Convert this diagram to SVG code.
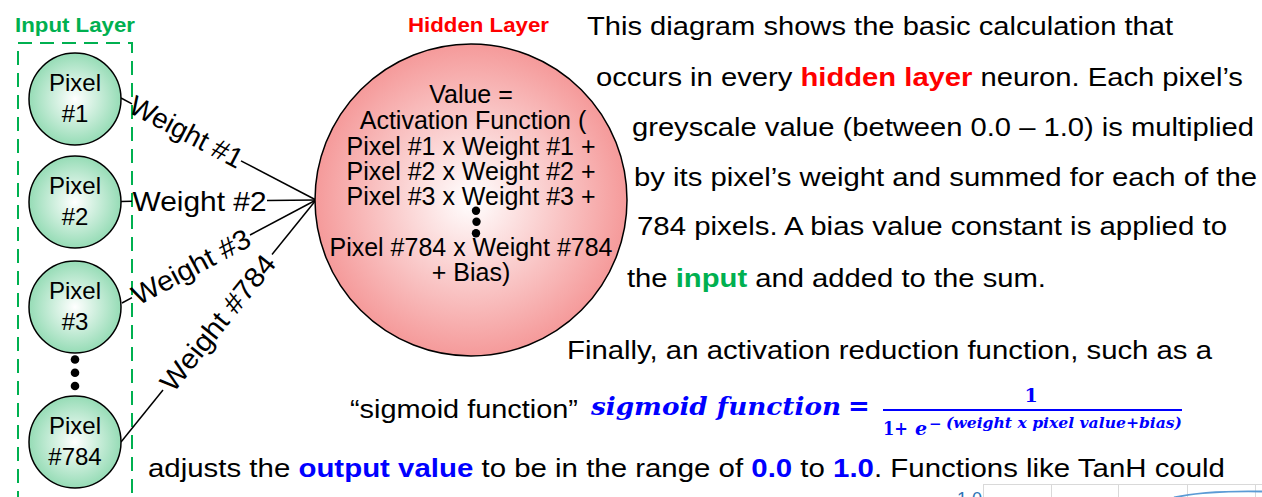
<svg xmlns="http://www.w3.org/2000/svg" width="1262" height="497" viewBox="0 0 1262 497">
<style>
.sans{font-family:"Liberation Sans",Arial,sans-serif}
.px{font-family:"Liberation Sans",Arial,sans-serif;font-size:24px;fill:#000;text-anchor:middle}
.hid{font-family:"Liberation Sans",Arial,sans-serif;font-size:25px;fill:#000;text-anchor:middle}
.wt{font-family:"Liberation Sans",Arial,sans-serif;font-size:28px;fill:#000;text-anchor:middle}
.para{font-family:"Liberation Sans",Arial,sans-serif;font-size:26px;fill:#000}
.math{font-family:"DejaVu Serif","Liberation Serif",serif;font-weight:bold;fill:#0000ff}
.pnode{stroke:#000;stroke-width:1.5;fill:url(#gGreen)}
.conn line{stroke:#000;stroke-width:1.5}
.red{fill:#ff0000;font-weight:bold}
.grn{fill:#00b050;font-weight:bold}
.blu{fill:#0000ff;font-weight:bold}
.grid{stroke:#d9d9d9;stroke-width:1}
</style>
<defs>
<radialGradient id="gGreen" cx="50%" cy="50%" r="50%">
<stop offset="0" stop-color="#ffffff"/>
<stop offset="1" stop-color="#96dcb6"/>
</radialGradient>
<radialGradient id="gRed" cx="50%" cy="50%" r="50%">
<stop offset="0" stop-color="#ffffff"/>
<stop offset="1" stop-color="#f59a9a"/>
</radialGradient>
</defs>
<rect width="1262" height="497" fill="#ffffff"/>

<!-- chart fragment -->
<g id="chart">
<line class="grid" x1="983" y1="484.5" x2="1262" y2="484.5"/>
<line class="grid" x1="983.5" y1="484" x2="983.5" y2="497"/>
<line class="grid" x1="1051.5" y1="484" x2="1051.5" y2="497"/>
<line class="grid" x1="1118.5" y1="484" x2="1118.5" y2="497"/>
<line class="grid" x1="1187.5" y1="484" x2="1187.5" y2="497"/>
<line class="grid" x1="1255.5" y1="484" x2="1255.5" y2="497"/>
<text class="sans" x="982" y="505" font-size="18" fill="#2e75b6" text-anchor="end">1.0</text>
<path d="M1174,497.5 Q1205,490.5 1262,491.5" fill="none" stroke="#5b9bd5" stroke-width="2"/>
</g>

<!-- input layer -->
<g id="input-layer">
<rect x="18" y="43" width="114" height="480" fill="none" stroke="#00b050" stroke-width="2" stroke-dasharray="14 8"/>
<text class="sans" x="15" y="32" font-size="20" font-weight="bold" fill="#00b050" textLength="120" lengthAdjust="spacingAndGlyphs">Input Layer</text>
</g>

<!-- connectors -->
<g id="connectors" class="conn">
<line x1="121" y1="98" x2="132" y2="103.8"/>
<line x1="241" y1="160.8" x2="316" y2="200"/>
<line x1="121" y1="201.5" x2="132" y2="201.3"/>
<line x1="267" y1="200.5" x2="316" y2="200"/>
<line x1="122" y1="303" x2="132" y2="297.7"/>
<line x1="250" y1="235" x2="316" y2="200"/>
<line x1="121" y1="442" x2="163" y2="390"/>
<line x1="272" y1="254.5" x2="316" y2="200"/>
<text class="wt" transform="translate(186.5,131.5) rotate(27.6)" x="0" y="10" textLength="124" lengthAdjust="spacingAndGlyphs">Weight #1</text>
<text class="wt" x="199.5" y="211" textLength="134" lengthAdjust="spacingAndGlyphs">Weight #2</text>
<text class="wt" transform="translate(191,266.5) rotate(-27.96)" x="0" y="10" textLength="130" lengthAdjust="spacingAndGlyphs">Weight #3</text>
<text class="wt" transform="translate(217.5,322.5) rotate(-51.14)" x="0" y="10" textLength="166" lengthAdjust="spacingAndGlyphs">Weight #784</text>
</g>

<!-- pixel nodes -->
<g id="pixel1">
<circle class="pnode" cx="75" cy="99" r="46"/>
<text class="px" x="75" y="91">Pixel</text>
<text class="px" x="75" y="122">#1</text>
</g>
<g id="pixel2">
<circle class="pnode" cx="75" cy="202" r="46"/>
<text class="px" x="75" y="194">Pixel</text>
<text class="px" x="75" y="225">#2</text>
</g>
<g id="pixel3">
<circle class="pnode" cx="75" cy="307" r="46"/>
<text class="px" x="75" y="299">Pixel</text>
<text class="px" x="75" y="330">#3</text>
</g>
<g id="input-dots">
<circle cx="75" cy="359.5" r="4.3" fill="#000"/>
<circle cx="75" cy="372.8" r="4.3" fill="#000"/>
<circle cx="75" cy="386" r="4.3" fill="#000"/>
</g>
<g id="pixel784">
<circle class="pnode" cx="75" cy="442" r="46"/>
<text class="px" x="75" y="434">Pixel</text>
<text class="px" x="75" y="465">#784</text>
</g>

<!-- hidden neuron -->
<g id="hidden-neuron">
<text class="sans" x="408" y="32" font-size="20" font-weight="bold" fill="#ff0000" textLength="141" lengthAdjust="spacingAndGlyphs">Hidden Layer</text>
<circle cx="471" cy="200" r="156" fill="url(#gRed)" stroke="#000" stroke-width="1.5"/>
<text class="hid" x="471" y="103">Value =</text>
<text class="hid" x="473" y="129">Activation Function (</text>
<text class="hid" x="471" y="155">Pixel #1 x Weight #1 +</text>
<text class="hid" x="471" y="180">Pixel #2 x Weight #2 +</text>
<text class="hid" x="471" y="205">Pixel #3 x Weight #3 +</text>
<circle cx="476" cy="210.7" r="4.2" fill="#000"/>
<circle cx="476.5" cy="221.8" r="4.2" fill="#000"/>
<circle cx="476" cy="233.3" r="4.2" fill="#000"/>
<text class="hid" x="471" y="256">Pixel #784 x Weight #784</text>
<text class="hid" x="471" y="281">+ Bias)</text>
</g>

<!-- description text -->
<g id="description">
<text class="para" x="587" y="35" textLength="586" lengthAdjust="spacingAndGlyphs">This diagram shows the basic calculation that</text>
<text class="para" x="596" y="86" textLength="647" lengthAdjust="spacingAndGlyphs">occurs in every <tspan class="red">hidden layer</tspan> neuron. Each pixel’s</text>
<text class="para" x="632" y="136" textLength="622" lengthAdjust="spacingAndGlyphs">greyscale value (between 0.0 – 1.0) is multiplied</text>
<text class="para" x="634" y="186" textLength="623" lengthAdjust="spacingAndGlyphs">by its pixel’s weight and summed for each of the</text>
<text class="para" x="637" y="235" textLength="590" lengthAdjust="spacingAndGlyphs">784 pixels. A bias value constant is applied to</text>
<text class="para" x="627" y="287" textLength="419" lengthAdjust="spacingAndGlyphs">the <tspan class="grn">input</tspan> and added to the sum.</text>
<text class="para" x="567" y="359" textLength="645" lengthAdjust="spacingAndGlyphs">Finally, an activation reduction function, such as a</text>
<text class="para" x="350" y="418" textLength="228" lengthAdjust="spacingAndGlyphs">“sigmoid function”</text>
<text class="para" x="148" y="477" textLength="1077" lengthAdjust="spacingAndGlyphs">adjusts the <tspan class="blu">output value</tspan> to be in the range of <tspan class="blu">0.0</tspan> to <tspan class="blu">1.0</tspan>. Functions like TanH could</text>
</g>

<!-- sigmoid formula -->
<g id="formula">
<text class="math" x="591" y="415" font-size="24" font-style="italic" textLength="250" lengthAdjust="spacingAndGlyphs">sigmoid function</text>
<text class="math" x="859" y="415" font-size="26" text-anchor="middle">=</text>
<text class="math" x="1031" y="402" font-size="19" text-anchor="middle">1</text>
<line x1="883" y1="410" x2="1182" y2="410" stroke="#0000ff" stroke-width="2"/>
<text class="math" x="883" y="435" font-size="19" textLength="25" lengthAdjust="spacingAndGlyphs">1+</text>
<text class="math" x="915" y="435" font-size="19" font-style="italic">e</text>
<text class="math" x="929" y="429" font-size="15">−</text>
<text class="math" x="946" y="428" font-size="15" font-style="italic" textLength="236" lengthAdjust="spacingAndGlyphs">(weight x pixel value+bias)</text>
</g>
</svg>
